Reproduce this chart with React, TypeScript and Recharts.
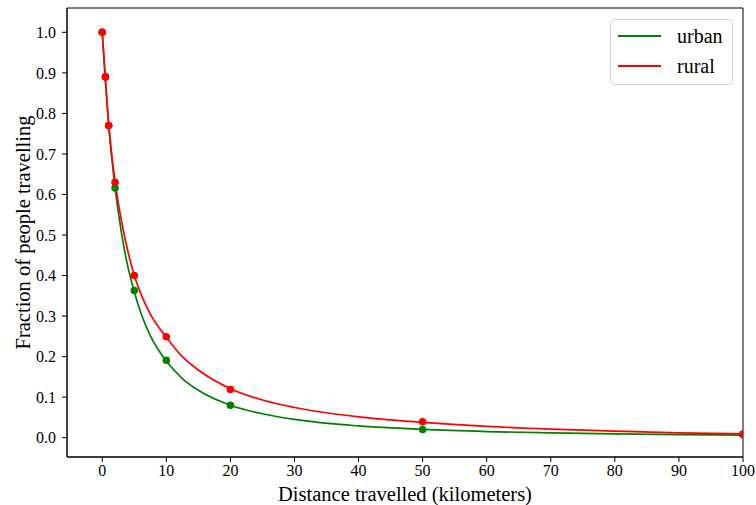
import {
  ComposedChart, Line, Scatter, XAxis, YAxis, ReferenceArea,
} from 'recharts';

// observed points
const distances = [0, 0.5, 1, 2, 5, 10, 20, 50, 100];
const urbanObserved = [1.0, 0.89, 0.77, 0.616, 0.363, 0.191, 0.080, 0.020, 0.007];
const ruralObserved = [1.0, 0.89, 0.77, 0.63, 0.40, 0.249, 0.119, 0.0395, 0.009];

// fitted curves
const curveDistances = [0, 0.5, 1, 2, 3, 4, 5, 6, 7.5, 10, 12.5, 15, 20, 25, 30, 40, 50, 60, 70, 80, 90, 100];
const urbanCurve = [1.0, 0.88, 0.772, 0.617, 0.505, 0.422, 0.36, 0.309, 0.252, 0.189, 0.146, 0.117, 0.080, 0.059, 0.045, 0.029, 0.0205, 0.0152, 0.0118, 0.0095, 0.0078, 0.0066];
const ruralCurve = [1.0, 0.88, 0.775, 0.632, 0.535, 0.46, 0.40, 0.356, 0.305, 0.248, 0.2, 0.167, 0.121, 0.093, 0.0745, 0.0515, 0.038, 0.028, 0.021, 0.016, 0.012, 0.0095];

const xTicks = [0, 10, 20, 30, 40, 50, 60, 70, 80, 90, 100];
const yTicks = [0, 0.1, 0.2, 0.3, 0.4, 0.5, 0.6, 0.7, 0.8, 0.9, 1.0];

const GREEN = '#008000';
const RED = '#ff0000';
const FONT = '"Liberation Serif", "Times New Roman", serif';

const X_DOMAIN: [number, number] = [-5.5, 100];
const Y_DOMAIN: [number, number] = [-0.0476, 1.06];

const toPoints = (xs: number[], ys: number[]) => xs.map((x, i) => ({ x, y: ys[i] }));

function LegendBox() {
  const rows = [
    { name: 'urban', color: GREEN },
    { name: 'rural', color: RED },
  ];
  return (
    <div
      style={{
        position: 'absolute', left: 610, top: 19,
        width: 123, height: 66, boxSizing: 'border-box',
        border: '1px solid #d6d6d6', borderRadius: 4,
        background: 'rgba(255,255,255,0.8)', fontFamily: FONT,
        paddingTop: 1,
      }}
    >
      {rows.map((r) => (
        <div key={r.name} style={{ display: 'flex', alignItems: 'center', height: 30 }}>
          <div style={{ width: 43, height: 2, marginLeft: 7, background: r.color }} />
          <div style={{ marginLeft: 16, fontSize: 20, lineHeight: '24px', color: '#000' }}>{r.name}</div>
        </div>
      ))}
    </div>
  );
}

const dot = (color: string) => (p: any) => (
  <circle cx={p.cx} cy={p.cy} r={3.8} fill={color} stroke="none" />
);

export default function App() {
  const urbanLine = toPoints(curveDistances, urbanCurve);
  const ruralLine = toPoints(curveDistances, ruralCurve);
  const urbanPts = toPoints(distances, urbanObserved);
  const ruralPts = toPoints(distances, ruralObserved);

  return (
    <div style={{ position: 'absolute', left: 0, top: 0, width: 756, height: 505, background: '#fff', fontFamily: FONT }}>
      <style>{`.recharts-wrapper text, .recharts-wrapper tspan { font-family: "Liberation Serif", "Times New Roman", serif !important; }`}</style>
      <ComposedChart
        width={756}
        height={505}
        margin={{ top: 8, right: 13, left: 7, bottom: 0 }}
        style={{ fontFamily: FONT }}
      >
        <XAxis
          dataKey="x" type="number" domain={X_DOMAIN} ticks={xTicks}
          allowDataOverflow
          height={48}
          tick={{ fill: '#000', fontSize: 16, fontFamily: FONT }}
          tickSize={5} tickMargin={3}
          axisLine={{ stroke: '#000' }} tickLine={{ stroke: '#000' }}
          label={{ value: 'Distance travelled (kilometers)', position: 'insideBottom', offset: 4, fill: '#000', fontSize: 20.5, fontFamily: FONT }}
        />
        <YAxis
          dataKey="y" type="number" domain={Y_DOMAIN} ticks={yTicks}
          allowDataOverflow
          width={60}
          tickFormatter={(v: number) => v.toFixed(1)}
          tick={{ fill: '#000', fontSize: 16, fontFamily: FONT }}
          tickSize={5} tickMargin={6}
          axisLine={{ stroke: '#000' }} tickLine={{ stroke: '#000' }}
          label={{ value: 'Fraction of people travelling', angle: -90, position: 'insideLeft', offset: 16, fill: '#000', fontSize: 20.5, fontFamily: FONT, style: { textAnchor: 'middle' } }}
        />
        <ReferenceArea
          x1={X_DOMAIN[0]} x2={X_DOMAIN[1]} y1={Y_DOMAIN[0]} y2={Y_DOMAIN[1]}
          fill="none" stroke="#000" strokeWidth={1} fillOpacity={0}
        />
        <Line data={urbanLine} dataKey="y" name="urban" type="monotone" stroke={GREEN} strokeWidth={1.7} dot={false} activeDot={false} isAnimationActive={false} />
        <Line data={ruralLine} dataKey="y" name="rural" type="monotone" stroke={RED} strokeWidth={1.7} dot={false} activeDot={false} isAnimationActive={false} />
        <Scatter data={urbanPts} dataKey="y" shape={dot(GREEN)} isAnimationActive={false} />
        <Scatter data={ruralPts} dataKey="y" shape={dot(RED)} isAnimationActive={false} />
      </ComposedChart>
      <LegendBox />
    </div>
  );
}
